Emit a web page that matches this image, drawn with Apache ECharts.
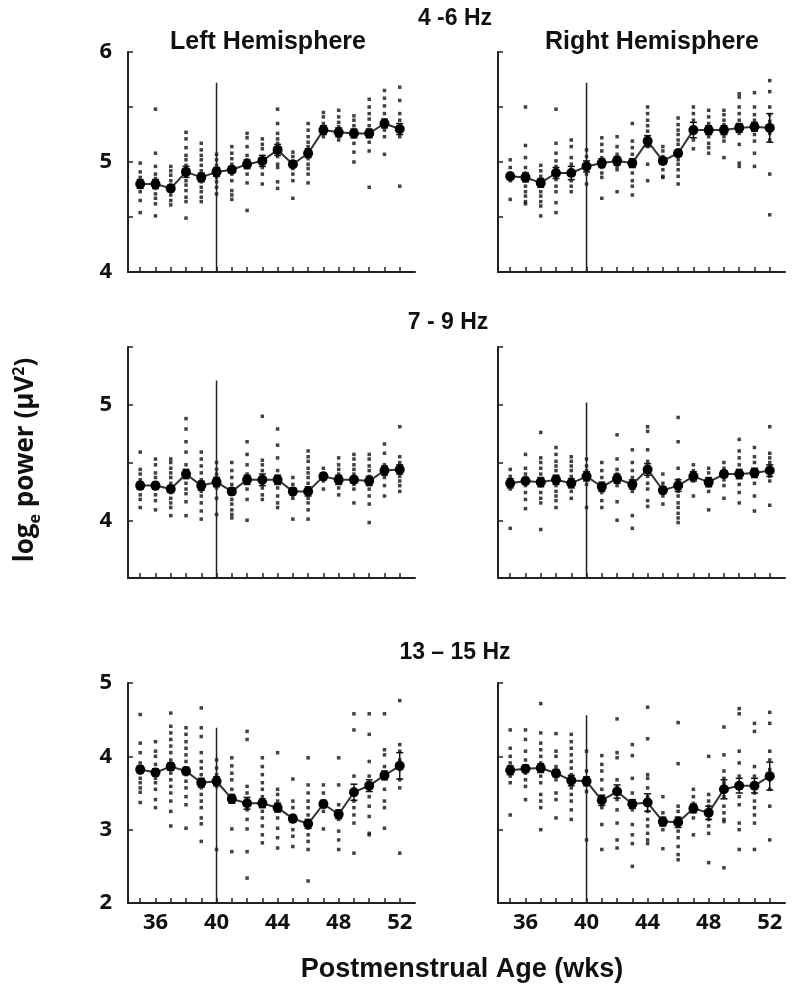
<!DOCTYPE html>
<html>
<head>
<meta charset="utf-8">
<script src="https://cdn.jsdelivr.net/npm/echarts@6/dist/echarts.min.js"></script>
<style>
html,body{margin:0;padding:0;background:#fff;}
#chart{width:800px;height:995px;}
</style>
</head>
<body>
<div id="chart"></div>
<script>
// ---------- data ----------
const weeks = [35,36,37,38,39,40,41,42,43,44,45,46,47,48,49,50,51,52];
const xTickLabels = [36,40,44,48,52];
const bandTitles = ['4 -6 Hz','7 - 9 Hz','13 \u2013 15 Hz'];
const hemiTitles = ['Left Hemisphere','Right Hemisphere'];

const meanTL = [4.80,4.80,4.76,4.91,4.86,4.91,4.93,4.98,5.01,5.11,4.98,5.08,5.29,5.27,5.26,5.26,5.35,5.30];
const semTL  = [0.04,0.04,0.03,0.05,0.04,0.04,0.03,0.04,0.05,0.05,0.03,0.04,0.04,0.04,0.04,0.04,0.04,0.05];
const meanTR = [4.87,4.86,4.81,4.90,4.90,4.96,4.99,5.01,4.99,5.19,5.01,5.08,5.29,5.29,5.29,5.31,5.32,5.31];
const semTR  = [0.03,0.04,0.04,0.05,0.06,0.05,0.04,0.04,0.04,0.05,0.03,0.03,0.07,0.04,0.04,0.04,0.04,0.13];
const meanML = [4.30,4.30,4.27,4.40,4.30,4.33,4.25,4.35,4.35,4.35,4.25,4.25,4.38,4.35,4.35,4.34,4.43,4.44];
const semML  = [0.03,0.03,0.03,0.04,0.04,0.04,0.03,0.04,0.05,0.04,0.03,0.04,0.03,0.04,0.03,0.04,0.04,0.04];
const meanMR = [4.32,4.34,4.33,4.35,4.32,4.38,4.29,4.36,4.31,4.44,4.26,4.30,4.38,4.33,4.40,4.40,4.41,4.43];
const semMR  = [0.04,0.03,0.04,0.04,0.04,0.04,0.04,0.04,0.04,0.05,0.03,0.05,0.04,0.04,0.03,0.04,0.04,0.05];
const meanBL = [3.82,3.78,3.86,3.80,3.64,3.66,3.42,3.36,3.36,3.30,3.15,3.08,3.35,3.21,3.51,3.60,3.74,3.87];
const semBL  = [0.05,0.05,0.05,0.05,0.06,0.06,0.06,0.08,0.06,0.06,0.05,0.06,0.05,0.06,0.11,0.08,0.06,0.18];
const meanBR = [3.81,3.83,3.84,3.77,3.67,3.66,3.40,3.52,3.35,3.37,3.11,3.10,3.29,3.23,3.55,3.60,3.60,3.73];
const semBR  = [0.06,0.05,0.06,0.05,0.07,0.06,0.07,0.09,0.06,0.12,0.06,0.07,0.06,0.09,0.13,0.10,0.10,0.19];

const dotsTL = [
 [4.99,4.91,4.86,4.82,4.77,4.73,4.65,4.54],
 [5.48,5.08,4.96,4.89,4.85,4.80,4.76,4.71,4.67,4.62,4.51],
 [4.96,4.92,4.88,4.83,4.79,4.74,4.70,4.65,4.61],
 [5.27,5.21,5.13,5.06,5.02,4.97,4.92,4.88,4.83,4.79,4.74,4.68,4.64,4.49],
 [5.17,5.11,5.06,5.02,4.97,4.92,4.88,4.82,4.77,4.73,4.68,4.64],
 [5.07,5.02,4.97,4.92,4.86,4.82,4.77,4.71],
 [5.14,5.08,5.03,4.98,4.94,4.89,4.83,4.74,4.70,4.66],
 [5.26,5.22,5.14,5.06,5.02,4.95,4.89,4.81,4.56],
 [5.21,5.16,5.12,5.05,5.00,4.95,4.89,4.80],
 [5.48,5.35,5.26,5.21,5.17,5.12,5.05,4.98,4.95,4.82,4.76],
 [5.09,5.05,4.98,4.94,4.89,4.83,4.67],
 [5.35,5.29,5.23,5.18,5.14,5.08,5.03,4.98,4.94,4.89,4.81],
 [5.45,5.41,5.35,5.30,5.27,5.23],
 [5.47,5.41,5.36,5.32,5.27,5.23,5.20],
 [5.42,5.38,5.33,5.27,5.23,5.17,5.09,5.00],
 [5.57,5.50,5.44,5.39,5.33,5.27,5.18,5.10,4.77],
 [5.65,5.58,5.51,5.44,5.38,5.33,5.29,5.23,5.07],
 [5.68,5.56,5.44,5.38,5.32,5.27,5.23,4.78]
];
const dotsTR = [
 [5.02,4.95,4.90,4.86,4.83,4.66],
 [5.50,5.15,5.04,4.95,4.90,4.83,4.78,4.73,4.69,4.64,4.62],
 [4.97,4.92,4.87,4.83,4.78,4.73,4.69,4.64,4.60,4.51],
 [5.48,5.17,5.08,5.01,4.96,4.90,4.84,4.78,4.73,4.63,4.54],
 [5.20,5.14,5.04,4.98,4.93,4.89,4.83,4.78,4.73],
 [5.11,5.05,4.99,4.95,4.89,4.80],
 [5.22,5.16,5.10,5.04,4.99,4.95,4.90,4.86,4.67],
 [5.23,5.14,5.07,5.02,4.96,4.93,4.73],
 [5.35,5.19,5.13,5.07,5.01,4.96,4.90,4.83,4.78,4.70],
 [5.50,5.44,5.38,5.33,5.28,5.23,5.19,5.14,4.98,4.83],
 [5.14,5.10,5.05,4.99,4.93,4.87,4.86],
 [5.40,5.34,5.29,5.25,5.20,5.16,5.11,5.07,5.02,4.98,4.93,4.87,4.80],
 [5.50,5.44,5.38,5.32,5.26,5.20,5.12],
 [5.47,5.41,5.35,5.29,5.23,5.17,5.13,5.08],
 [5.47,5.43,5.38,5.34,5.28,5.23,5.19,5.04],
 [5.62,5.59,5.50,5.44,5.38,5.32,5.26,5.16,4.99,4.96],
 [5.63,5.50,5.43,5.38,5.31,5.25,5.19,5.08,4.96],
 [5.74,5.64,5.50,5.43,5.37,5.32,5.26,5.20,4.89,4.52]
];
const dotsML = [
 [4.59,4.44,4.40,4.35,4.31,4.27,4.22,4.18,4.11],
 [4.53,4.48,4.41,4.37,4.32,4.27,4.22,4.17,4.09],
 [4.53,4.50,4.45,4.41,4.37,4.32,4.28,4.24,4.19,4.15,4.11,4.04],
 [4.88,4.79,4.68,4.59,4.48,4.43,4.32,4.27,4.23,4.16,4.04],
 [4.59,4.53,4.47,4.41,4.35,4.30,4.25,4.21,4.15,4.08,4.01],
 [4.50,4.44,4.40,4.37,4.28,4.19,4.05],
 [4.50,4.43,4.37,4.31,4.27,4.18,4.14,4.09,4.05,4.02],
 [4.68,4.57,4.48,4.40,4.32,4.27,4.18,4.00],
 [4.90,4.52,4.48,4.43,4.38,4.32,4.28,4.22,4.18],
 [4.79,4.65,4.54,4.43,4.38,4.28,4.21,4.15,4.11],
 [4.37,4.31,4.27,4.22,4.19,4.01],
 [4.60,4.55,4.51,4.45,4.41,4.37,4.32,4.28,4.24,4.19,4.15,4.09,4.01],
 [4.45,4.40,4.34,4.27],
 [4.54,4.48,4.44,4.40,4.34,4.28,4.22],
 [4.57,4.53,4.48,4.44,4.40,4.35,4.31,4.27,4.15],
 [4.57,4.53,4.47,4.43,4.38,4.32,4.27,4.21,4.14,3.98],
 [4.66,4.58,4.48,4.43,4.37,4.30,4.21],
 [4.81,4.55,4.50,4.43,4.38,4.34,4.30,4.25]
];
const dotsMR = [
 [4.44,4.38,4.34,4.30,4.27,3.93],
 [4.57,4.45,4.40,4.34,4.30,4.24,4.18,4.10],
 [4.76,4.54,4.50,4.45,4.40,4.35,4.30,4.24,4.19,4.15,3.92],
 [4.63,4.57,4.51,4.47,4.43,4.37,4.30,4.25,4.21,4.17,4.11],
 [4.55,4.51,4.47,4.43,4.38,4.34,4.30,4.25,4.19],
 [4.53,4.47,4.43,4.38,4.31,4.11],
 [4.50,4.43,4.37,4.31,4.24,4.17,4.11],
 [4.74,4.53,4.44,4.40,4.36,4.30,4.16,4.00],
 [4.61,4.50,4.43,4.37,4.30,4.25,4.04,3.93],
 [4.81,4.77,4.61,4.51,4.45,4.38,4.32,4.27,4.17,4.12],
 [4.40,4.32,4.27,4.21,4.14],
 [4.89,4.68,4.45,4.35,4.30,4.25,4.21,4.15,4.11,4.06,4.02,3.98],
 [4.48,4.43,4.38,4.34,4.21],
 [4.45,4.41,4.35,4.30,4.25,4.09],
 [4.50,4.45,4.40,4.35,4.30,4.19],
 [4.70,4.60,4.54,4.48,4.43,4.37,4.31,4.24,4.15],
 [4.63,4.55,4.50,4.44,4.38,4.32,4.21,4.08],
 [4.81,4.58,4.54,4.50,4.44,4.38,4.34,4.13]
];
const dotsBL = [
 [4.57,4.18,4.05,3.91,3.77,3.70,3.64,3.57,3.51,3.37],
 [4.20,4.07,4.00,3.89,3.77,3.70,3.64,3.55,3.41,3.30],
 [4.59,4.41,4.32,4.23,4.14,4.05,3.95,3.86,3.77,3.68,3.59,3.50,3.39,3.25,3.05],
 [4.39,4.30,4.20,4.11,4.02,3.93,3.84,3.75,3.66,3.57,3.45,3.34,3.02],
 [4.66,4.39,4.27,4.05,3.93,3.84,3.75,3.66,3.57,3.48,3.39,3.30,3.16,3.08,2.84],
 [3.95,3.84,3.75,3.68,3.59,2.73],
 [3.98,3.87,3.77,3.68,3.55,3.45,3.01,2.70],
 [4.34,4.23,3.59,3.50,3.39,3.27,3.14,3.01,2.70,2.34],
 [3.98,3.86,3.75,3.64,3.55,3.45,3.36,3.25,3.16,3.05,2.93,2.82],
 [4.05,3.55,3.48,3.39,3.30,3.16,3.02,2.89,2.75],
 [3.69,3.39,3.30,3.20,3.11,3.00,2.91,2.77],
 [3.98,3.61,3.50,3.39,3.30,3.20,3.11,3.02,2.93,2.84,2.73,2.30],
 [3.61,3.50,3.25,3.01],
 [3.98,3.61,3.34,3.25,3.14,2.98,2.86,2.73],
 [4.58,4.36,3.73,3.50,3.39,3.30,3.20,3.09,2.68],
 [4.58,4.30,3.93,3.73,3.64,3.55,3.45,3.32,3.18,2.95,2.93],
 [4.58,4.09,4.02,3.86,3.73,3.55,3.39,3.30,3.02],
 [4.76,4.16,4.07,3.95,3.82,3.68,3.57,2.68]
];
const dotsBR = [
 [4.36,4.11,4.00,3.91,3.80,3.73,3.64,3.20],
 [4.36,4.23,4.07,3.95,3.86,3.77,3.68,3.59,3.41],
 [4.72,4.32,4.18,4.09,4.00,3.91,3.82,3.73,3.64,3.48,3.39,3.30,3.00],
 [4.31,4.07,4.00,3.86,3.77,3.68,3.50,3.41,3.16],
 [4.30,4.20,4.11,4.02,3.93,3.84,3.75,3.66,3.57,3.48,3.39,3.27,3.14],
 [4.07,3.80,3.70,3.61,3.52,2.86],
 [4.01,3.89,3.80,3.68,3.55,3.41,3.30,3.07,2.73],
 [4.51,4.05,3.98,3.68,3.57,3.41,3.27,3.09,2.86,2.75],
 [4.16,4.01,3.70,3.50,3.39,3.27,3.07,2.93,2.81,2.50],
 [4.67,4.24,3.75,3.70,3.57,3.45,3.25,3.14,3.05,2.95,2.86,2.81],
 [3.45,3.23,3.14,3.07,3.00,2.74],
 [4.46,3.90,3.32,3.25,3.16,3.07,2.98,2.89,2.77,2.66,2.59],
 [3.55,3.45,3.36,3.25,3.16,2.93],
 [4.00,3.48,3.39,3.32,3.23,3.14,3.05,2.95,2.55],
 [4.40,4.02,3.80,3.70,3.64,3.45,3.32,3.23,3.14,3.11,2.48],
 [4.65,4.58,4.07,3.91,3.73,3.59,3.45,3.34,3.09,3.00,2.73],
 [4.45,4.34,3.86,3.73,3.61,3.50,3.39,3.30,3.20,3.09,2.73],
 [4.60,4.45,4.07,3.95,3.82,3.68,3.55,3.32,2.86]
];

// vertical reference line at 40 wks: top value per panel
const refWeek = 40;
const refTop = [5.72, 5.72, 5.21, 5.02, 4.39, 4.56];

// y ranges per row
const yMin = [4, 3.5, 2];
const yMax = [6, 5.5, 5];
const yStep = [0.5, 0.5, 1];

// ---------- layout ----------
const panels = [
  {mean: meanTL, sem: semTL, dots: dotsTL, row: 0, col: 0},
  {mean: meanTR, sem: semTR, dots: dotsTR, row: 0, col: 1},
  {mean: meanML, sem: semML, dots: dotsML, row: 1, col: 0},
  {mean: meanMR, sem: semMR, dots: dotsMR, row: 1, col: 1},
  {mean: meanBL, sem: semBL, dots: dotsBL, row: 2, col: 0},
  {mean: meanBR, sem: semBR, dots: dotsBR, row: 2, col: 1}
];
const gridTop = [52, 347, 683];
const gridH = [220, 231, 220];
const gridLeft = [128, 498];
const gridW = 287;

const numFont = '"Open Sans", "DejaVu Sans", sans-serif';
const titleFont = '"Liberation Sans", Arial, sans-serif';
const axisColor = '#222';

const grid = [], xAxis = [], yAxis = [], series = [];
panels.forEach((p, i) => {
  grid.push({left: gridLeft[p.col], top: gridTop[p.row], width: gridW, height: gridH[p.row], containLabel: false});
  xAxis.push({
    type: 'value', gridIndex: i, min: 34.2, max: 53,
    axisLine: {show: true, onZero: false, lineStyle: {color: axisColor, width: 2}},
    axisTick: {show: true, inside: true, length: 5, customValues: weeks, lineStyle: {color: axisColor, width: 1.5}},
    axisLabel: {show: p.row === 2, customValues: xTickLabels, margin: 9,
      color: '#111', fontFamily: numFont, fontWeight: 'bold', fontSize: 22},
    splitLine: {show: false}
  });
  yAxis.push({
    type: 'value', gridIndex: i, min: yMin[p.row], max: yMax[p.row], interval: yStep[p.row],
    axisLine: {show: true, onZero: false, lineStyle: {color: axisColor, width: 2}},
    axisTick: {show: true, inside: true, length: 5, lineStyle: {color: axisColor, width: 1.5}},
    axisLabel: {show: p.col === 0, margin: 16, color: '#111', fontFamily: numFont, fontWeight: 'bold', fontSize: 22,
      formatter: v => (Math.abs(v - Math.round(v)) < 1e-9 ? String(Math.round(v)) : '')},
    splitLine: {show: false}
  });
  // individual subjects
  const pts = [];
  p.dots.forEach((arr, k) => arr.forEach(v => pts.push([weeks[k], v])));
  series.push({
    type: 'scatter', xAxisIndex: i, yAxisIndex: i, data: pts,
    symbol: 'rect', symbolSize: 3.5, itemStyle: {color: '#111'}, silent: true, z: 2
  });
  // reference line at 40 wks
  series.push({
    type: 'line', xAxisIndex: i, yAxisIndex: i,
    data: [[refWeek, yMin[p.row]], [refWeek, refTop[i]]],
    symbol: 'none', lineStyle: {color: '#222', width: 1.5}, silent: true, z: 3
  });
  // error bars
  series.push({
    type: 'custom', xAxisIndex: i, yAxisIndex: i,
    data: weeks.map((w, k) => [w, p.mean[k], p.sem[k]]),
    renderItem: (params, api) => {
      const x = api.value(0), m = api.value(1), e = api.value(2);
      const t = api.coord([x, m + e]), b = api.coord([x, m - e]);
      const cw = 3.5;
      const st = {stroke: '#111', lineWidth: 1.5};
      return {type: 'group', children: [
        {type: 'line', shape: {x1: t[0], y1: t[1], x2: b[0], y2: b[1]}, style: st},
        {type: 'line', shape: {x1: t[0] - cw, y1: t[1], x2: t[0] + cw, y2: t[1]}, style: st},
        {type: 'line', shape: {x1: b[0] - cw, y1: b[1], x2: b[0] + cw, y2: b[1]}, style: st}
      ]};
    },
    silent: true, z: 4
  });
  // group means
  series.push({
    type: 'line', xAxisIndex: i, yAxisIndex: i,
    data: weeks.map((w, k) => [w, p.mean[k]]),
    symbol: 'circle', symbolSize: 10,
    itemStyle: {color: '#000'}, lineStyle: {color: '#333', width: 2},
    silent: true, z: 5
  });
});

const graphic = [
  {type: 'text', x: 455, y: 19, style: {text: bandTitles[0], font: 'bold 23px ' + titleFont, fill: '#111', textAlign: 'center', textVerticalAlign: 'middle'}},
  {type: 'text', x: 448, y: 323, style: {text: bandTitles[1], font: 'bold 23px ' + titleFont, fill: '#111', textAlign: 'center', textVerticalAlign: 'middle'}},
  {type: 'text', x: 455, y: 653, style: {text: bandTitles[2], font: 'bold 23px ' + titleFont, fill: '#111', textAlign: 'center', textVerticalAlign: 'middle'}},
  {type: 'text', x: 268, y: 42, style: {text: hemiTitles[0], font: 'bold 25px ' + titleFont, fill: '#111', textAlign: 'center', textVerticalAlign: 'middle'}},
  {type: 'text', x: 652, y: 42, style: {text: hemiTitles[1], font: 'bold 25px ' + titleFont, fill: '#111', textAlign: 'center', textVerticalAlign: 'middle'}},
  {type: 'text', x: 462, y: 970, style: {text: 'Postmenstrual Age (wks)', font: 'bold 27px ' + titleFont, fill: '#111', textAlign: 'center', textVerticalAlign: 'middle'}},
  {type: 'text', x: 26, y: 460, rotation: Math.PI / 2,
    style: {
      text: '{a|log}{b|e}{a| power (\u03bcV}{c|2}{a|)}',
      textAlign: 'center', textVerticalAlign: 'middle', fill: '#111',
      rich: {
        a: {fontFamily: numFont, fontWeight: 'bold', fontSize: 26, lineHeight: 34, verticalAlign: 'middle', fill: '#111'},
        b: {fontFamily: numFont, fontWeight: 'bold', fontSize: 16, lineHeight: 34, verticalAlign: 'bottom', fill: '#111'},
        c: {fontFamily: numFont, fontWeight: 'bold', fontSize: 16, lineHeight: 34, verticalAlign: 'top', fill: '#111', padding: [2, 0, 0, 0]}
      }
    }}
];

const chart = echarts.init(document.getElementById('chart'), null, {renderer: 'canvas'});
chart.setOption({
  animation: false,
  backgroundColor: '#fff',
  grid, xAxis, yAxis, series, graphic
});
</script>
</body>
</html>
